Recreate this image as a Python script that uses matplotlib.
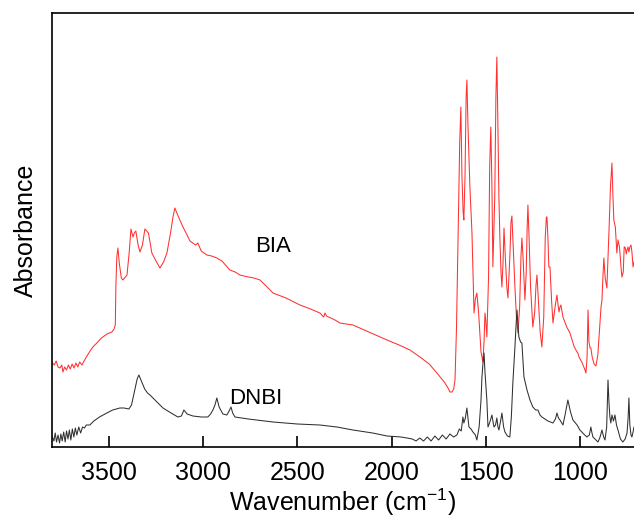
import matplotlib
matplotlib.use("Agg")
import matplotlib.pyplot as plt

plt.rcParams['font.family'] = ['Liberation Sans', 'DejaVu Sans']
plt.rcParams['mathtext.default'] = 'regular'

# BIA spectrum: (wavenumber cm-1, absorbance a.u.)
bia_points = [
    (3800, 0.84), (3790, 0.82), (3780, 0.86), (3770, 0.80), (3760, 0.79), (3750, 0.82), (3744, 0.75),
    (3735, 0.80), (3725, 0.77), (3715, 0.82), (3705, 0.78), (3695, 0.83), (3685, 0.79), (3675, 0.84),
    (3665, 0.80), (3655, 0.85), (3643, 0.82), (3620, 0.90), (3600, 0.96), (3585, 1.00), (3564, 1.04),
    (3540, 1.09), (3510, 1.13), (3484, 1.15), (3473, 1.18), (3466, 1.22), (3463, 1.60), (3458, 1.90),
    (3452, 1.99), (3445, 1.84), (3434, 1.69), (3426, 1.67), (3404, 1.72), (3392, 1.95), (3383, 2.18),
    (3372, 2.10), (3365, 2.14), (3357, 2.16), (3345, 2.02), (3335, 1.95), (3322, 2.02), (3309, 2.18),
    (3290, 2.14), (3272, 1.94), (3250, 1.86), (3229, 1.79), (3210, 1.85), (3192, 1.94), (3172, 2.15),
    (3160, 2.30), (3150, 2.39), (3135, 2.32), (3107, 2.20), (3085, 2.12), (3070, 2.06), (3040, 2.02),
    (3028, 2.04), (3010, 1.96), (2980, 1.92), (2955, 1.91), (2927, 1.89), (2900, 1.86), (2858, 1.77),
    (2830, 1.75), (2805, 1.72), (2760, 1.70), (2730, 1.69), (2698, 1.67), (2660, 1.60), (2629, 1.54),
    (2560, 1.49), (2486, 1.42), (2430, 1.38), (2380, 1.34), (2360, 1.30), (2353, 1.34), (2345, 1.31),
    (2300, 1.27), (2274, 1.24), (2205, 1.22), (2120, 1.15), (2024, 1.07), (1960, 1.02), (1902, 0.97),
    (1849, 0.90), (1800, 0.83), (1759, 0.74), (1720, 0.65), (1700, 0.59), (1690, 0.55), (1679, 0.55),
    (1670, 0.58), (1663, 0.67), (1655, 1.20), (1645, 2.30), (1638, 3.05), (1632, 3.40), (1626, 2.70),
    (1620, 2.35), (1616, 2.27), (1610, 2.70), (1604, 3.50), (1600, 3.67), (1594, 3.20), (1584, 2.60),
    (1573, 2.14), (1562, 1.34), (1555, 1.48), (1547, 1.54), (1538, 1.35), (1525, 0.95), (1515, 0.85),
    (1509, 1.05), (1504, 1.34), (1499, 1.25), (1494, 1.10), (1485, 1.70), (1479, 2.80), (1473, 3.20),
    (1467, 2.60), (1462, 1.80), (1452, 2.50), (1446, 3.50), (1441, 3.90), (1436, 3.30), (1430, 2.50),
    (1425, 2.10), (1419, 1.75), (1414, 1.60), (1408, 1.85), (1403, 2.19), (1396, 1.90), (1388, 1.60),
    (1382, 1.49), (1372, 1.90), (1366, 2.25), (1361, 2.31), (1354, 2.00), (1345, 1.60), (1337, 1.30),
    (1329, 1.14), (1320, 1.40), (1313, 1.90), (1308, 2.09), (1302, 1.90), (1292, 1.47), (1285, 1.75),
    (1280, 2.20), (1276, 2.42), (1270, 2.10), (1262, 1.60), (1250, 1.20), (1240, 1.35), (1233, 1.62),
    (1228, 1.72), (1220, 1.45), (1211, 1.15), (1202, 1.00), (1192, 1.30), (1184, 2.10), (1178, 2.30),
    (1175, 2.30), (1170, 2.10), (1165, 1.80), (1159, 1.80), (1150, 1.45), (1143, 1.24), (1132, 1.40),
    (1122, 1.52), (1116, 1.42), (1111, 1.35), (1106, 1.40), (1101, 1.42), (1090, 1.30), (1070, 1.20),
    (1053, 1.14), (1030, 1.00), (1015, 0.95), (1011, 0.94), (1005, 0.90), (990, 0.85), (975, 0.78),
    (968, 0.74), (962, 0.90), (957, 1.37), (952, 1.05), (946, 0.99), (942, 0.99), (935, 0.90),
    (925, 0.83), (915, 0.81), (905, 0.92), (895, 1.20), (888, 1.40), (883, 1.47), (878, 1.70),
    (873, 1.89), (866, 1.69), (857, 1.59), (845, 2.20), (838, 2.60), (830, 2.84), (825, 2.52),
    (820, 2.27), (812, 2.20), (804, 1.94), (798, 2.07), (790, 2.00), (782, 1.80), (777, 1.70),
    (770, 1.75), (765, 2.00), (761, 2.00), (757, 1.97), (754, 1.93), (750, 1.97), (745, 2.00),
    (740, 1.95), (735, 2.00), (729, 2.02), (724, 1.95), (718, 1.80), (713, 1.85),
]

# DNBI spectrum: (wavenumber cm-1, absorbance a.u.)
dnbi_points = [
    (3800, 0.10), (3792, 0.06), (3785, 0.14), (3778, 0.05), (3770, 0.12), (3762, 0.04), (3755, 0.13),
    (3748, 0.06), (3740, 0.15), (3732, 0.05), (3725, 0.16), (3717, 0.08), (3710, 0.17), (3702, 0.07),
    (3694, 0.18), (3686, 0.10), (3678, 0.19), (3670, 0.12), (3660, 0.20), (3650, 0.14), (3640, 0.20),
    (3630, 0.19), (3620, 0.22), (3601, 0.22), (3580, 0.26), (3550, 0.30), (3511, 0.34), (3480, 0.37),
    (3442, 0.39), (3420, 0.39), (3394, 0.38), (3380, 0.42), (3365, 0.55), (3350, 0.68), (3341, 0.72),
    (3330, 0.67), (3310, 0.58), (3295, 0.54), (3282, 0.52), (3250, 0.46), (3213, 0.39), (3170, 0.34),
    (3134, 0.30), (3115, 0.31), (3102, 0.37), (3085, 0.33), (3054, 0.31), (3010, 0.30), (2975, 0.30),
    (2960, 0.33), (2948, 0.37), (2937, 0.42), (2927, 0.49), (2915, 0.40), (2895, 0.33), (2874, 0.32),
    (2862, 0.36), (2852, 0.40), (2843, 0.34), (2831, 0.30), (2760, 0.28), (2629, 0.25), (2500, 0.23),
    (2380, 0.22), (2290, 0.20), (2205, 0.17), (2100, 0.14), (2024, 0.11), (1950, 0.10), (1918, 0.09),
    (1890, 0.08), (1870, 0.06), (1850, 0.09), (1830, 0.06), (1810, 0.10), (1790, 0.06), (1770, 0.11),
    (1750, 0.07), (1730, 0.12), (1710, 0.08), (1690, 0.13), (1670, 0.10), (1653, 0.12), (1640, 0.18),
    (1630, 0.16), (1621, 0.30), (1616, 0.24), (1608, 0.29), (1600, 0.39), (1589, 0.20), (1578, 0.18),
    (1568, 0.15), (1555, 0.12), (1547, 0.07), (1535, 0.20), (1525, 0.47), (1520, 0.70), (1514, 0.85),
    (1509, 0.94), (1504, 0.75), (1494, 0.47), (1488, 0.20), (1478, 0.25), (1467, 0.32), (1461, 0.25),
    (1456, 0.20), (1448, 0.22), (1441, 0.29), (1435, 0.20), (1430, 0.17), (1422, 0.25), (1414, 0.34),
    (1405, 0.20), (1398, 0.15), (1385, 0.11), (1372, 0.10), (1364, 0.30), (1356, 0.64), (1345, 1.00),
    (1338, 1.25), (1334, 1.37), (1329, 1.22), (1324, 1.10), (1315, 1.05), (1308, 1.04), (1302, 0.85),
    (1297, 0.70), (1281, 0.57), (1265, 0.47), (1250, 0.40), (1235, 0.37), (1223, 0.37), (1212, 0.32),
    (1202, 0.30), (1170, 0.26), (1143, 0.24), (1130, 0.28), (1122, 0.34), (1114, 0.29), (1106, 0.27),
    (1090, 0.22), (1078, 0.33), (1064, 0.47), (1050, 0.35), (1037, 0.27), (1015, 0.22), (1000, 0.17),
    (980, 0.13), (963, 0.10), (950, 0.12), (942, 0.20), (936, 0.14), (931, 0.10), (915, 0.07),
    (904, 0.05), (893, 0.10), (883, 0.17), (874, 0.10), (867, 0.07), (858, 0.20), (851, 0.67),
    (846, 0.45), (841, 0.30), (836, 0.24), (830, 0.32), (822, 0.26), (814, 0.32), (806, 0.22),
    (798, 0.17), (785, 0.08), (772, 0.05), (760, 0.08), (750, 0.14), (744, 0.30), (740, 0.49),
    (735, 0.22), (729, 0.12), (724, 0.10), (718, 0.15), (713, 0.20),
]

xticks = [3500, 3000, 2500, 2000, 1500, 1000]
series_labels = ["BIA", "DNBI"]
label_positions = [(2630, 2.00), (2720, 0.49)]

bia_wn, bia_a = zip(*bia_points)
dnbi_wn, dnbi_a = zip(*dnbi_points)

fig = plt.figure(figsize=(6.34, 5.19), dpi=100)
ax = fig.add_axes([52/634, 72/519, 582/634, 434/519])

ax.plot(bia_wn, bia_a, color='#ff3030', lw=0.75)
ax.plot(dnbi_wn, dnbi_a, color='#303030', lw=0.75)

ax.set_xlim(3802, 713)
ax.set_ylim(0, 4.34)
ax.set_xticks(xticks)
ax.set_xticklabels([str(t) for t in xticks])
ax.set_yticks([])
ax.tick_params(axis='x', direction='in', length=8, width=1.2, labelsize=18, pad=10)
for s in ['left', 'top', 'bottom']:
    ax.spines[s].set_linewidth(1.2)
ax.spines['right'].set_visible(False)

for lab, (x, y) in zip(series_labels, label_positions):
    ax.text(x, y, lab, fontsize=16, ha='center', va='center')

ax.set_xlabel('Wavenumber (cm$^{-1}$)', fontsize=18, labelpad=1)
ax.set_ylabel('Absorbance', fontsize=18, labelpad=10)

fig.savefig('out.png', dpi=100)
